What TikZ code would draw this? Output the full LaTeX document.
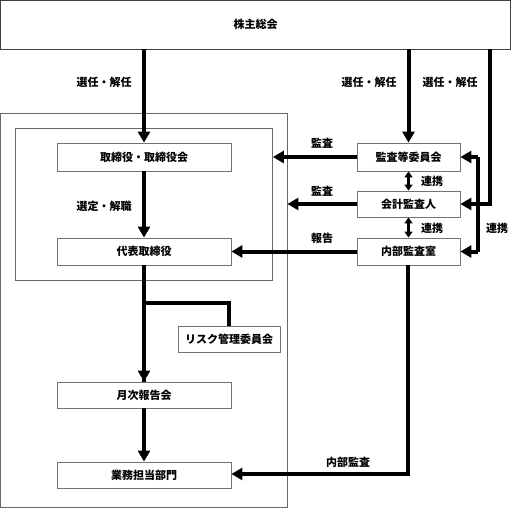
\documentclass[tikz,border=0pt]{standalone}
\usepackage{fontspec}
\newfontfamily\jp{Noto Sans CJK JP}
\usetikzlibrary{arrows.meta}
\tikzset{
  box/.style={draw=black!55,line width=0.8pt,fill=white,inner sep=0pt,font=\jp\fontsize{11}{13}\selectfont\bfseries},
  frame/.style={draw=black!60,line width=0.8pt,inner sep=0pt},
  lbl/.style={inner sep=0pt,font=\jp\fontsize{11}{13}\selectfont\bfseries},
  conn/.style={line width=4pt,-{Triangle[length=11pt,width=12pt]}},
  plain/.style={line width=4pt},
  link/.style={line width=3pt,{Triangle[length=6pt,width=8pt]}-{Triangle[length=6pt,width=8pt]}},
}
\begin{document}
\begin{tikzpicture}[x=1pt,y=-1pt]
\useasboundingbox (0,0) rectangle (511,508);
% containers
\node[frame,minimum width=286.5pt,minimum height=394pt] (outer) at (143.75,310) {};
\node[frame,minimum width=257.5pt,minimum height=152pt] (inner) at (143.75,204) {};
% boxes
\node[box,draw=black!75,minimum width=510pt,minimum height=48.5pt] (agm) at (255.5,24.75) {株主総会};
\node[box,minimum width=174pt,minimum height=28pt] (board) at (144,157) {取締役・取締役会};
\node[box,minimum width=174pt,minimum height=27pt] (rep) at (144,251.5) {代表取締役};
\node[box,minimum width=102pt,minimum height=26pt] (risk) at (229,339) {リスク管理委員会};
\node[box,minimum width=174pt,minimum height=26pt] (month) at (144,395) {月次報告会};
\node[box,minimum width=174pt,minimum height=26pt] (dept) at (144,475) {業務担当部門};
\node[box,minimum width=103pt,minimum height=28pt] (audc) at (408.5,157) {監査等委員会};
\node[box,minimum width=103pt,minimum height=26pt] (acc) at (408.5,204) {会計監査人};
\node[box,minimum width=103pt,minimum height=27pt] (ia) at (408.5,251.5) {内部監査室};
% coordinates
\coordinate (rtop) at (490,49);
\coordinate (rcorner) at (490,204);
\coordinate (lx) at (478,157);
\coordinate (br) at (144,303);
\coordinate (brc) at (229,303);
\coordinate (iac) at (408,474);
% connectors
\draw[conn] (agm.south -| board.north) -- (board.north);
\draw[conn] (board.south) -- (rep.north);
\draw[plain] (rep.south) -- (month.north);
\draw[conn] (br) -- (month.north);
\draw[plain] (br) -- (brc) -- (risk.north);
\draw[conn] (month.south) -- (dept.north);
\draw[conn] (agm.south -| audc.north) -- (audc.north);
\draw[conn] (rtop) -- (rcorner) -- (acc.east);
\draw[conn] (audc.west) -- (audc.west -| inner.east);
\draw[conn] (acc.west) -- (acc.west -| outer.east);
\draw[conn] (ia.west) -- (rep.east);
\draw[link] (audc.south) -- (acc.north);
\draw[link] (acc.south) -- (ia.north);
\draw[plain] (lx |- audc.east) -- (lx |- ia.east);
\draw[conn] (lx |- audc.east) -- (audc.east);
\draw[conn] (lx |- ia.east) -- (ia.east);
\draw[conn] (ia.south -| iac) -- (iac) -- (iac -| dept.east);
% labels
\node[lbl] (l1) at (104,82) {選任・解任};
\node[lbl] (l2) at (369,82) {選任・解任};
\node[lbl] (l3) at (450,82) {選任・解任};
\node[lbl] (l4) at (104,206) {選定・解職};
\node[lbl] (l5) at (322,143) {監査};
\node[lbl] (l6) at (322,191) {監査};
\node[lbl] (l7) at (322,238) {報告};
\node[lbl] (l8) at (432,181) {連携};
\node[lbl] (l9) at (432,228) {連携};
\node[lbl] (l10) at (497,228) {連携};
\node[lbl] (l11) at (348,462) {内部監査};
\end{tikzpicture}
\end{document}
